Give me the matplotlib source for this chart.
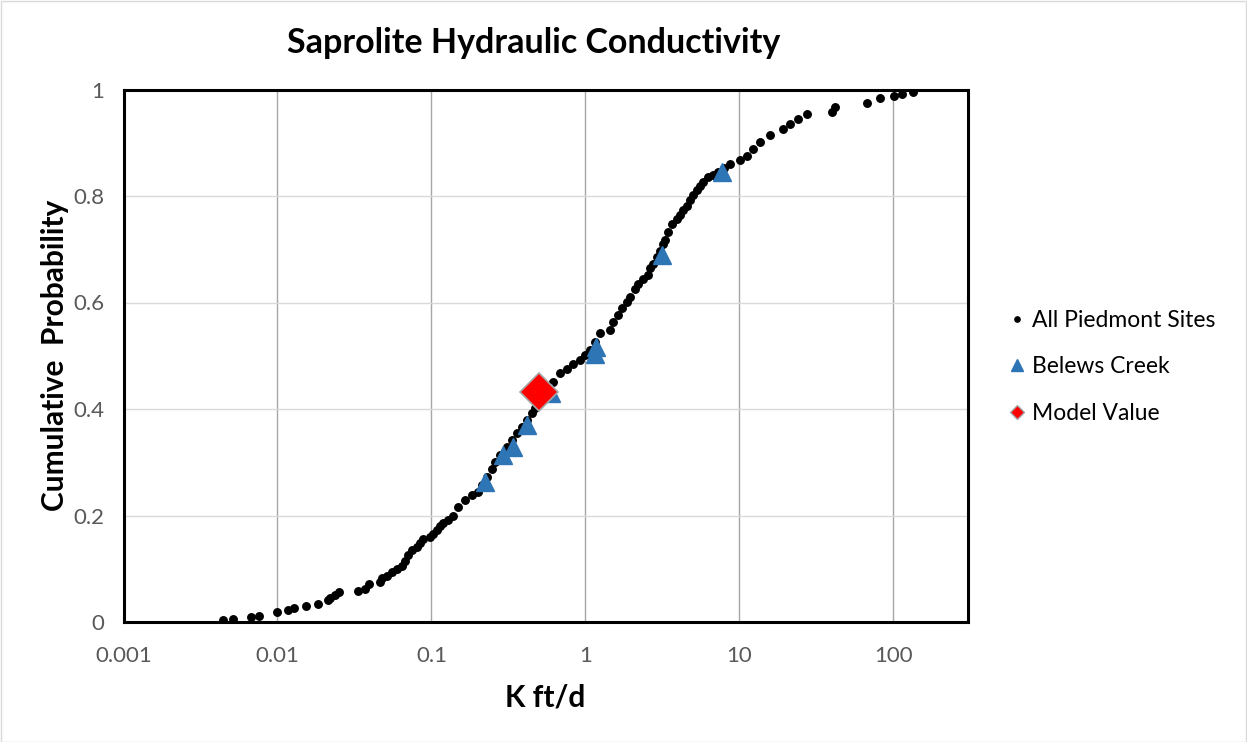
import matplotlib
matplotlib.use("Agg")
import matplotlib.pyplot as plt
from matplotlib.lines import Line2D
from matplotlib.patches import Rectangle

plt.rcParams['font.family'] = ['Lato', 'DejaVu Sans']

# All Piedmont Sites: hydraulic conductivity (ft/d) and cumulative probability
piedmont_k = [0.0044, 0.00516, 0.0067, 0.00755, 0.0100, 0.01164, 0.01285, 0.0153, 0.0183,
              0.0214, 0.0219, 0.0237, 0.0251, 0.0335, 0.0370, 0.0394, 0.0463, 0.0475,
              0.0512, 0.0552, 0.0594, 0.0640, 0.0673, 0.0707, 0.0743, 0.0801, 0.0841,
              0.0885, 0.0977, 0.1028, 0.108, 0.1135, 0.1194, 0.1286, 0.1386, 0.1493,
              0.1650, 0.1824, 0.2014, 0.2118, 0.2282, 0.2460, 0.2582, 0.2786, 0.3076,
              0.3319, 0.3573, 0.3855, 0.4150, 0.4477, 0.4699, 0.5070, 0.5458, 0.5794,
              0.6180, 0.6823, 0.7550, 0.8337, 0.9204, 0.9931, 1.0696, 1.153, 1.242,
              1.443, 1.515, 1.633, 1.718, 1.851, 1.945, 2.096, 2.203, 2.373, 2.558,
              2.624, 2.754, 2.897, 3.048, 3.20, 3.28, 3.45, 3.63, 3.91, 4.11, 4.32,
              4.56, 4.77, 5.01, 5.27, 5.54, 5.82, 6.27, 6.73, 7.25, 7.93, 8.67, 10.06,
              11.14, 12.29, 13.59, 15.78, 19.25, 21.28, 24.1, 27.3, 39.7, 41.7, 66.9,
              81.7, 101.0, 113.5, 134.5]
piedmont_p = [0.004, 0.006, 0.009, 0.012, 0.019, 0.022, 0.026, 0.030, 0.034,
              0.041, 0.045, 0.051, 0.056, 0.059, 0.062, 0.071, 0.076, 0.082,
              0.087, 0.094, 0.099, 0.106, 0.115, 0.126, 0.135, 0.141, 0.149,
              0.155, 0.160, 0.166, 0.173, 0.180, 0.185, 0.192, 0.200, 0.216,
              0.229, 0.238, 0.244, 0.257, 0.273, 0.288, 0.301, 0.313, 0.329,
              0.341, 0.354, 0.366, 0.379, 0.392, 0.401, 0.417, 0.430, 0.443,
              0.451, 0.467, 0.476, 0.485, 0.492, 0.501, 0.510, 0.526, 0.542,
              0.548, 0.563, 0.576, 0.589, 0.601, 0.610, 0.626, 0.635, 0.645, 0.651,
              0.664, 0.673, 0.685, 0.697, 0.710, 0.717, 0.732, 0.748, 0.757, 0.765, 0.773,
              0.782, 0.792, 0.801, 0.811, 0.818, 0.826, 0.835, 0.840, 0.845, 0.852, 0.861, 0.867,
              0.876, 0.889, 0.901, 0.914, 0.926, 0.936, 0.945, 0.954, 0.957, 0.967, 0.975,
              0.984, 0.988, 0.991, 0.995]

# Belews Creek
belews_k = [0.222, 0.292, 0.338, 0.420, 0.60, 1.17, 1.15, 3.12, 7.66]
belews_p = [0.263, 0.313, 0.328, 0.370, 0.430, 0.517, 0.504, 0.689, 0.845]

# Model value
model_k = [0.499]
model_p = [0.431]

x_ticks = [0.001, 0.01, 0.1, 1, 10, 100]
x_tick_labels = ['0.001', '0.01', '0.1', '1', '10', '100']
y_ticks = [0, 0.2, 0.4, 0.6, 0.8, 1.0]
y_tick_labels = ['0', '0.2', '0.4', '0.6', '0.8', '1']

W, H = 1247, 742
fig = plt.figure(figsize=(W / 100, H / 100), dpi=100)
ax = fig.add_axes([123.5 / W, 1 - 622 / H, (968 - 123.5) / W, (622 - 89.5) / H])

ax.set_xscale('log')
ax.set_xlim(0.001, 10 ** (5.484 - 3))
ax.set_ylim(0, 1)

ax.plot(piedmont_k, piedmont_p, linestyle='none', marker='o', ms=5.4,
        color='black', zorder=3)
ax.plot(belews_k, belews_p, linestyle='none', marker='^', ms=12.5,
        color='#2e75b6', zorder=4)
ax.plot(model_k, model_p, linestyle='none', marker='D', ms=19,
        markerfacecolor='#ff0000', markeredgecolor='#a6a6a6', markeredgewidth=1.2, zorder=5)

ax.set_xticks(x_ticks)
ax.set_xticklabels(x_tick_labels)
ax.xaxis.set_minor_locator(matplotlib.ticker.NullLocator())
ax.set_yticks(y_ticks)
ax.set_yticklabels(y_tick_labels)
ax.tick_params(axis='both', length=0, labelsize=16, colors='#595959')
ax.tick_params(axis='x', pad=17)
ax.tick_params(axis='y', pad=14)

ax.grid(axis='x', color='#a6a6a6', linewidth=1.0)
ax.grid(axis='y', color='#d9d9d9', linewidth=1.0)
ax.set_axisbelow(True)
for s in ax.spines.values():
    s.set_linewidth(2.2)
    s.set_color('black')

fig.text(534 / W, 1 - 43 / H, 'Saprolite Hydraulic Conductivity', ha='center', va='center',
         fontsize=24.5, fontweight='bold')
fig.text(545 / W, 1 - 697 / H, 'K ft/d', ha='center', va='center',
         fontsize=21.5, fontweight='bold')
fig.text(55 / W, 1 - 355 / H, 'Cumulative  Probability', ha='center', va='center',
         rotation=90, fontsize=21.5, fontweight='bold')

handles = [
    Line2D([], [], linestyle='none', marker='o', ms=3.8, color='black'),
    Line2D([], [], linestyle='none', marker='^', ms=9, color='#2e75b6'),
    Line2D([], [], linestyle='none', marker='D', ms=7.5, markerfacecolor='#ff0000',
           markeredgecolor='#a6a6a6', markeredgewidth=1.0),
]
labels = ['All Piedmont Sites', 'Belews Creek', 'Model Value']
fig.legend(handles, labels, loc='center left', bbox_to_anchor=(996 / W, 1 - 367 / H),
           frameon=False, fontsize=16.5, handlelength=0.8, handletextpad=0.25,
           labelspacing=1.1, borderpad=0)

fig.add_artist(Rectangle((0.5 / W, 0.5 / H), 1 - 1.5 / W, 1 - 1.5 / H, transform=fig.transFigure,
                         fill=False, edgecolor='#d9d9d9', linewidth=1.0))

fig.savefig('out.png', dpi=100, facecolor='white')
